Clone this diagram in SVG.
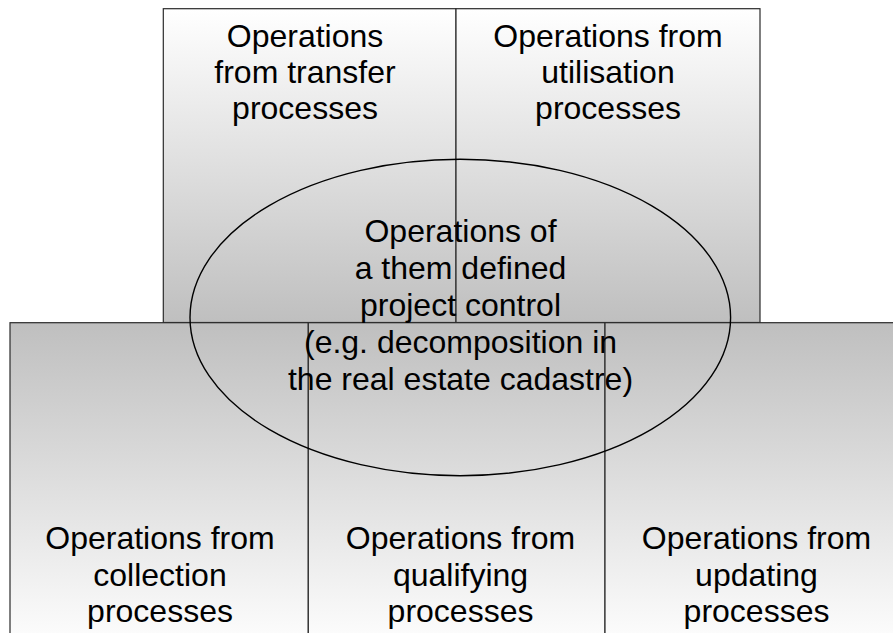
<svg xmlns="http://www.w3.org/2000/svg" width="893" height="633" viewBox="0 0 893 633">
  <style>
    .box { stroke: #2b2b2b; stroke-width: 1.2; }
    .top { fill: url(#gTop); }
    .bot { fill: url(#gBot); }
    .ell { fill: none; stroke: #000; stroke-width: 1.4; }
    text { font-family: "Liberation Sans", Arial, Helvetica, sans-serif; font-size: 32px; fill: #000; text-anchor: middle; }
  </style>
  <defs>
    <linearGradient id="gTop" x1="0" y1="0" x2="0" y2="1">
      <stop offset="0" stop-color="#ffffff"/>
      <stop offset="1" stop-color="#bfbfbf"/>
    </linearGradient>
    <linearGradient id="gBot" x1="0" y1="0" x2="0" y2="1">
      <stop offset="0" stop-color="#bfbfbf"/>
      <stop offset="1" stop-color="#ffffff"/>
    </linearGradient>
  </defs>
  <rect width="893" height="633" fill="#ffffff"/>

  <g id="transfer">
    <rect class="box top" x="163.3" y="8.7" width="292.7" height="313.8"/>
    <text x="305" y="47">Operations</text>
    <text x="305" y="83">from transfer</text>
    <text x="305" y="119">processes</text>
  </g>

  <g id="utilisation">
    <rect class="box top" x="456" y="8.7" width="304" height="313.8"/>
    <text x="608" y="47">Operations from</text>
    <text x="608" y="83">utilisation</text>
    <text x="608" y="119">processes</text>
  </g>

  <g id="collection">
    <rect class="box bot" x="10" y="322.7" width="298.3" height="330"/>
    <text x="160" y="549">Operations from</text>
    <text x="160" y="585.5">collection</text>
    <text x="160" y="622">processes</text>
  </g>

  <g id="qualifying">
    <rect class="box bot" x="308.3" y="322.7" width="296.7" height="330"/>
    <text x="460.5" y="549">Operations from</text>
    <text x="460.5" y="585.5">qualifying</text>
    <text x="460.5" y="622">processes</text>
  </g>

  <g id="updating">
    <rect class="box bot" x="605" y="322.7" width="310" height="330"/>
    <text x="756.5" y="549">Operations from</text>
    <text x="756.5" y="585.5">updating</text>
    <text x="756.5" y="622">processes</text>
  </g>

  <g id="project-control">
    <ellipse class="ell" cx="460.3" cy="317.5" rx="270.3" ry="158.2"/>
    <text x="460.5" y="242">Operations of</text>
    <text x="460.5" y="279">a them defined</text>
    <text x="460.5" y="316">project control</text>
    <text x="460.5" y="353">(e.g. decomposition in</text>
    <text x="460.5" y="389.5">the real estate cadastre)</text>
  </g>
</svg>
